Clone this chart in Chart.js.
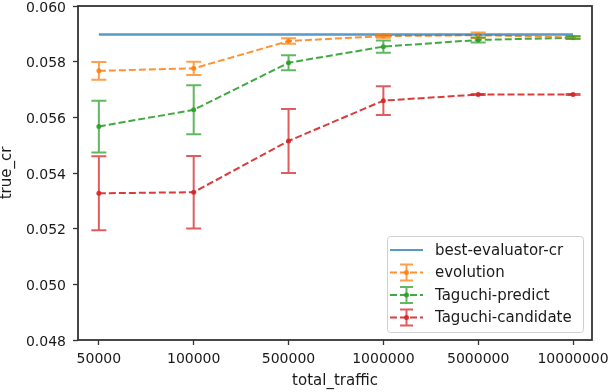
<!DOCTYPE html>
<html>
<head>
<meta charset="utf-8">
<script src="https://cdn.jsdelivr.net/npm/chart.js@4/dist/chart.umd.min.js"></script>
<style>
  html, body { margin: 0; padding: 0; background: #fff; }
  canvas { display: block; }
</style>
</head>
<body>
<canvas id="crChart" width="610" height="392"></canvas>
<script>
// ---- data ----
const categories = ['50000', '100000', '500000', '1000000', '5000000', '10000000'];
const yTicks = [0.048, 0.050, 0.052, 0.054, 0.056, 0.058, 0.060];

const bestCr = [0.05898, 0.05898, 0.05898, 0.05898, 0.05898, 0.05898];

const evolutionMean = [0.05767, 0.05776, 0.05874, 0.05892, 0.05895, 0.05887];
const evolutionErr  = [0.00032, 0.00024, 0.00010, 0.00006, 0.00010, 0.00004];

const predictMean = [0.05567, 0.05627, 0.05796, 0.05854, 0.05878, 0.05886];
const predictErr  = [0.00093, 0.00088, 0.00027, 0.00022, 0.00009, 0.00005];

const candidateMean = [0.05327, 0.05331, 0.05515, 0.05660, 0.05682, 0.05682];
const candidateErr  = [0.00133, 0.00130, 0.00115, 0.00052, 0.00002, 0.00002];

const FONT = "'DejaVu Sans', sans-serif";
const TEXT = '#1a1a1a';
const AXIS = '#333333';

function toPoints(values) {
    return values.map((v, i) => ({ x: i, y: v }));
}

function errSeries(label, mean, err, color, barColor) {
    return {
        label: label,
        data: toPoints(mean),
        errors: err,
        borderColor: color,
        backgroundColor: color,
        errColor: barColor,
        borderWidth: 2,
        borderDash: [7, 3],
        pointRadius: 2.5,
        pointBackgroundColor: color,
        pointBorderWidth: 0,
        tension: 0
    };
}

// barres d'erreur + cadre + legende
const errorBarPlugin = {
    id: 'errorBars',
    afterDatasetsDraw(chart) {
        const ctx = chart.ctx;
        const yScale = chart.scales.y;
        chart.data.datasets.forEach((ds, di) => {
            if (!ds.errors) return;
            const meta = chart.getDatasetMeta(di);
            ctx.save();
            ctx.strokeStyle = ds.errColor;
            ctx.lineWidth = 2;
            meta.data.forEach((pt, i) => {
                const v = ds.data[i].y;
                const top = yScale.getPixelForValue(v + ds.errors[i]);
                const bot = yScale.getPixelForValue(v - ds.errors[i]);
                ctx.beginPath();
                ctx.moveTo(pt.x, top);
                ctx.lineTo(pt.x, bot);
                ctx.moveTo(pt.x - 7.5, top);
                ctx.lineTo(pt.x + 7.5, top);
                ctx.moveTo(pt.x - 7.5, bot);
                ctx.lineTo(pt.x + 7.5, bot);
                ctx.stroke();
            });
            ctx.restore();
        });
    },
    afterDraw(chart) {
        const ctx = chart.ctx;
        const a = chart.chartArea;
        ctx.save();
        ctx.strokeStyle = AXIS;
        ctx.lineWidth = 1.8;
        ctx.strokeRect(a.left, a.top, a.right - a.left, a.bottom - a.top);

        // legende
        const bx = 387, by = 236, bw = 196, bh = 96;
        ctx.fillStyle = 'rgba(255,255,255,0.8)';
        ctx.strokeStyle = '#d0d0d0';
        ctx.lineWidth = 1;
        ctx.beginPath();
        ctx.roundRect(bx + 0.5, by + 0.5, bw, bh, 3);
        ctx.fill();
        ctx.stroke();

        ctx.font = '15px ' + FONT;
        ctx.textBaseline = 'middle';
        chart.data.datasets.forEach((ds, i) => {
            const cy = by + 14 + i * 22.5;
            const x0 = bx + 3, x1 = bx + 36, cx = (x0 + x1) / 2;
            ctx.strokeStyle = ds.borderColor;
            ctx.lineWidth = 2;
            ctx.setLineDash(ds.borderDash || []);
            ctx.beginPath();
            ctx.moveTo(x0, cy);
            ctx.lineTo(x1, cy);
            ctx.stroke();
            ctx.setLineDash([]);
            if (ds.errors) {
                ctx.strokeStyle = ds.errColor;
                ctx.beginPath();
                ctx.moveTo(cx, cy - 8);
                ctx.lineTo(cx, cy + 8);
                ctx.moveTo(cx - 6.5, cy - 8);
                ctx.lineTo(cx + 6.5, cy - 8);
                ctx.moveTo(cx - 6.5, cy + 8);
                ctx.lineTo(cx + 6.5, cy + 8);
                ctx.stroke();
                ctx.fillStyle = ds.borderColor;
                ctx.beginPath();
                ctx.arc(cx, cy, 2.5, 0, Math.PI * 2);
                ctx.fill();
            }
            ctx.fillStyle = TEXT;
            ctx.fillText(ds.label, bx + 48, cy + 1);
        });
        ctx.restore();
    }
};

const ctx = document.getElementById('crChart').getContext('2d');
new Chart(ctx, {
    type: 'line',
    data: {
        datasets: [
            {
                label: 'best-evaluator-cr',
                data: toPoints(bestCr),
                borderColor: 'rgba(31,119,180,0.75)',
                borderWidth: 2.5,
                pointRadius: 0,
                tension: 0
            },
            errSeries('evolution', evolutionMean, evolutionErr, 'rgba(255,127,14,0.85)', 'rgba(255,127,14,0.75)'),
            errSeries('Taguchi-predict', predictMean, predictErr, 'rgba(44,160,44,0.9)', 'rgba(44,160,44,0.75)'),
            errSeries('Taguchi-candidate', candidateMean, candidateErr, 'rgba(214,39,40,0.9)', 'rgba(214,39,40,0.75)')
        ]
    },
    options: {
        responsive: false,
        animation: false,
        layout: { padding: { left: 0, top: 6, right: 18, bottom: 0 } },
        plugins: {
            legend: { display: false },
            tooltip: { enabled: false }
        },
        scales: {
            x: {
                type: 'linear',
                min: -0.22,
                max: 5.2,
                afterBuildTicks: (scale) => {
                    scale.ticks = categories.map((c, i) => ({ value: i }));
                },
                afterFit: (scale) => {
                    scale.height = 52;
                    scale.paddingLeft = 0;
                    scale.paddingRight = 0;
                },
                ticks: {
                    callback: (value) => categories[value],
                    font: { family: FONT, size: 14 },
                    color: TEXT,
                    padding: 6,
                    maxRotation: 0,
                    autoSkip: false
                },
                grid: {
                    drawOnChartArea: false,
                    drawTicks: true,
                    tickLength: 5,
                    tickColor: AXIS,
                    tickWidth: 1.3
                },
                border: { display: false },
                title: {
                    display: true,
                    text: 'total_traffic',
                    font: { family: FONT, size: 15 },
                    color: TEXT,
                    padding: { top: 0, bottom: 2 }
                }
            },
            y: {
                min: 0.048,
                max: 0.060,
                afterBuildTicks: (scale) => {
                    scale.ticks = yTicks.map(v => ({ value: v }));
                },
                afterFit: (scale) => {
                    scale.width = 78;
                    scale.paddingTop = 0;
                    scale.paddingBottom = 0;
                },
                ticks: {
                    callback: (value) => value.toFixed(3),
                    font: { family: FONT, size: 14 },
                    color: TEXT,
                    padding: 7,
                    labelOffset: 2
                },
                grid: {
                    drawOnChartArea: false,
                    drawTicks: true,
                    tickLength: 5,
                    tickColor: AXIS,
                    tickWidth: 1.3
                },
                border: { display: false },
                title: {
                    display: true,
                    text: 'true_cr',
                    font: { family: FONT, size: 15 },
                    color: TEXT,
                    padding: { top: -1.5, bottom: 0 }
                }
            }
        }
    },
    plugins: [errorBarPlugin]
});
</script>
</body>
</html>
